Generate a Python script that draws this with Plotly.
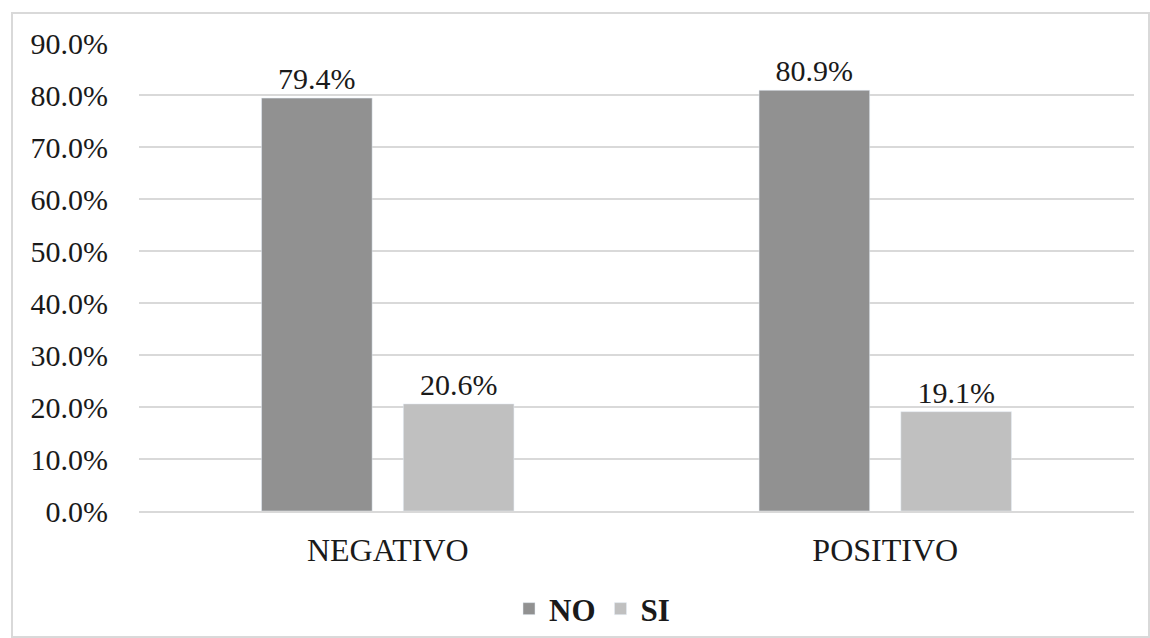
import plotly.graph_objects as go

categories = ["NEGATIVO", "POSITIVO"]
no_values = [79.4, 80.9]
si_values = [20.6, 19.1]
tick_vals = [0, 10, 20, 30, 40, 50, 60, 70, 80, 90]
tick_text = [f"{v:.1f}%" for v in tick_vals]

FONT = "Liberation Serif"

fig = go.Figure()
fig.add_trace(go.Bar(name="<b>NO</b>", x=categories, y=no_values, marker_color="#919191",
                     text=[f"{v:.1f}%" for v in no_values], textposition="outside",
                     textfont=dict(size=30, color="#1a1a1a", family=FONT), cliponaxis=False))
fig.add_trace(go.Bar(name="<b>SI</b>", x=categories, y=si_values, marker_color="#C0C0C0",
                     text=[f"{v:.1f}%" for v in si_values], textposition="outside",
                     textfont=dict(size=30, color="#1a1a1a", family=FONT), cliponaxis=False))

L, R, T, B = 139, 16, 43, 127
W, H = 1150, 638
pw, ph = W - L - R, H - T - B

def px(x):
    return (x - L) / pw

def py(y):
    return (H - B - y) / ph

fig.update_layout(
    width=W, height=H,
    margin=dict(l=L, r=R, t=T, b=B, autoexpand=False),
    paper_bgcolor="white", plot_bgcolor="white",
    font=dict(family=FONT, size=30, color="#1a1a1a"),
    bargap=0.43, bargroupgap=0.22,
    showlegend=True,
    legend=dict(orientation="h", x=px(592), xanchor="center", y=py(609), yanchor="middle",
                font=dict(size=31, color="#1a1a1a", family=FONT), itemwidth=30,
                traceorder="normal"),
    xaxis=dict(showgrid=False, showline=True, linecolor="#D9D9D9", linewidth=1.5,
               ticks="outside", ticklen=10, tickcolor="rgba(0,0,0,0)",
               tickfont=dict(size=32, family=FONT), automargin=False),
    yaxis=dict(range=[0, 90], tickvals=tick_vals, ticktext=tick_text, showgrid=True,
               gridcolor="#D9D9D9", gridwidth=1.5, zeroline=False, showline=False,
               tickfont=dict(size=30, family=FONT), ticks="outside", ticklen=24,
               tickcolor="rgba(0,0,0,0)", automargin=False),
    shapes=[dict(type="rect", xref="paper", yref="paper",
                 x0=px(12), x1=px(1149), y0=py(637), y1=py(13),
                 line=dict(color="#D9D9D9", width=2), fillcolor="rgba(0,0,0,0)", layer="below")],
)

fig.write_html("out.html", config={"displayModeBar": False},
               post_script="document.body.style.margin='0';document.body.style.overflow='hidden';")
